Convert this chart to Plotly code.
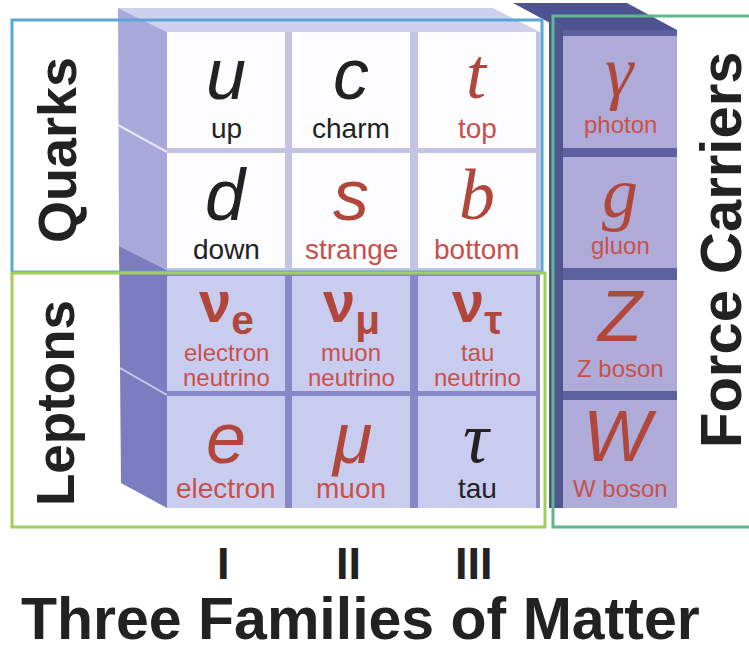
import plotly.graph_objects as go

# particle table
quark_symbols = [["u", "c", "t"], ["d", "s", "b"]]
quark_names = [["up", "charm", "top"], ["down", "strange", "bottom"]]
neutrino_symbols = ["ν", "ν", "ν"]
neutrino_subs = ["e", "μ", "τ"]
neutrino_names = [["electron", "neutrino"], ["muon", "neutrino"], ["tau", "neutrino"]]
lepton_symbols = ["e", "μ", "τ"]
lepton_names = ["electron", "muon", "tau"]
carrier_symbols = ["γ", "g", "Z", "W"]
carrier_names = ["photon", "gluon", "Z boson", "W boson"]
family_labels = ["I", "II", "III"]
group_labels = ["Quarks", "Leptons", "Force Carriers"]
x_title = "Three Families of Matter"

# which labels are printed dark instead of red
dark_symbols = {"u", "c", "d", "τ"}
dark_names = {"up", "charm", "down", "tau"}
serif_symbols = {"t", "b", "g", "γ", "τ"}

RED_SYM = "#b0473a"
RED_NAME = "#c8504b"
DARK = "#222222"
SANS = "Liberation Sans, Arial, sans-serif"
SERIF = "Liberation Serif, Times New Roman, serif"

# grid geometry (pixels)
col_left = [167, 292, 418]
col_w = 118
row_top = [32, 153, 276, 396]
row_bot = [148, 268, 391, 508]
fc_left, fc_w = 563, 114

fig = go.Figure()
shapes = []
ann = []


def poly(pts, color):
    d = "M " + " L ".join(f"{x},{y}" for x, y in pts) + " Z"
    shapes.append(dict(type="path", path=d, fillcolor=color,
                       line=dict(width=0), layer="below"))


def rect(x0, y0, x1, y1, color, line=None, width=0, fill=True):
    s = dict(type="rect", x0=x0, y0=y0, x1=x1, y1=y1,
             line=dict(width=width, color=line or color))
    s["fillcolor"] = color if fill else "rgba(0,0,0,0)"
    s["layer"] = "below" if fill else "above"
    shapes.append(s)


def label(x, y, text, size, color=DARK, family=SANS, angle=0):
    ann.append(dict(x=x, y=y, text=text, textangle=angle,
                    font=dict(family=family, size=size, color=color)))


# cube: top face, left faces, gaps
poly([(118, 8), (493, 8), (540, 32), (167, 32)], "#cfd0ee")
poly([(118, 8), (167, 32), (167, 270), (119, 246)], "#a9a8da")
poly([(119, 246), (167, 270), (167, 508), (121, 483)], "#7c7dc0")
shapes.append(dict(type="line", x0=118, y0=125, x1=167, y1=152,
                   line=dict(color="#e6e6f6", width=2)))
shapes.append(dict(type="line", x0=120, y0=368, x1=167, y1=395,
                   line=dict(color="#c9cae8", width=2)))
rect(167, 32, 540, 272, "#c3c3e3")
rect(167, 272, 540, 508, "#8587c6")

# force carrier column
poly([(513, 3), (627, 3), (677, 30), (563, 30)], "#4f5391")
rect(549, 22, 563, 508, "#50558f")
rect(563, 30, 677, 508, "#5d619f")

# cells
for r in range(4):
    for c in range(3):
        fill = "#fdfdff" if r < 2 else "#c8ccef"
        rect(col_left[c], row_top[r], col_left[c] + col_w, row_bot[r], fill)
    rect(fc_left, row_top[r] + 4, fc_left + fc_w, row_bot[r], "#aeabd8")


def cell_text(xc, rtop, sym, name, sym_size, name_size, sym_dy, name_dy):
    fam = SERIF if sym in serif_symbols else SANS
    label(xc, rtop + sym_dy, "<i>" + sym + "</i>", sym_size,
          DARK if sym in dark_symbols else RED_SYM, fam)
    label(xc, rtop + name_dy, name, name_size,
          DARK if name in dark_names else RED_NAME)


for r in range(2):
    for c in range(3):
        xc = col_left[c] + col_w / 2
        cell_text(xc, row_top[r], quark_symbols[r][c], quark_names[r][c], 72, 28, 42, 96)
for c in range(3):
    xc = col_left[c] + col_w / 2
    label(xc, row_top[2] + 30,
          "<b>" + neutrino_symbols[c] + "<sub>" + neutrino_subs[c] + "</sub></b>",
          58, RED_SYM)
    label(xc, row_top[2] + 76, neutrino_names[c][0], 24, RED_NAME)
    label(xc, row_top[2] + 101, neutrino_names[c][1], 24, RED_NAME)
    cell_text(xc, row_top[3], lepton_symbols[c], lepton_names[c], 72, 28, 42, 92)
for r in range(4):
    cell_text(fc_left + fc_w / 2, row_top[r], carrier_symbols[r], carrier_names[r],
              72, 24, 40, 92)

# group boxes
rect(12, 20, 542, 272, "#5aa6d8", width=3, fill=False)
rect(12, 273, 545, 527, "#a3cd5c", width=3, fill=False)
rect(553, 16, 770, 527, "#5db98d", width=3, fill=False)

# side and bottom labels
label(57, 150, "<b>" + group_labels[0] + "</b>", 54, angle=-90)
label(55, 403, "<b>" + group_labels[1] + "</b>", 53, angle=-90)
label(720, 250, "<b>" + group_labels[2] + "</b>", 58, angle=-90)
for c, lab in enumerate(family_labels):
    label(col_left[c] + col_w / 2 - 3, 563, "<b>" + lab + "</b>", 45)
label(360, 619, "<b>" + x_title + "</b>", 59)

for a in ann:
    a.update(xref="x", yref="y", showarrow=False, xanchor="center", yanchor="middle")

fig.update_layout(
    width=749, height=647,
    margin=dict(l=0, r=0, t=0, b=0),
    paper_bgcolor="white", plot_bgcolor="white",
    xaxis=dict(range=[0, 749], visible=False, fixedrange=True),
    yaxis=dict(range=[647, 0], visible=False, fixedrange=True),
    shapes=shapes, annotations=ann, showlegend=False,
)
fig.write_html("out.html", config={"displayModeBar": False},
               post_script="document.body.style.margin='0';")
